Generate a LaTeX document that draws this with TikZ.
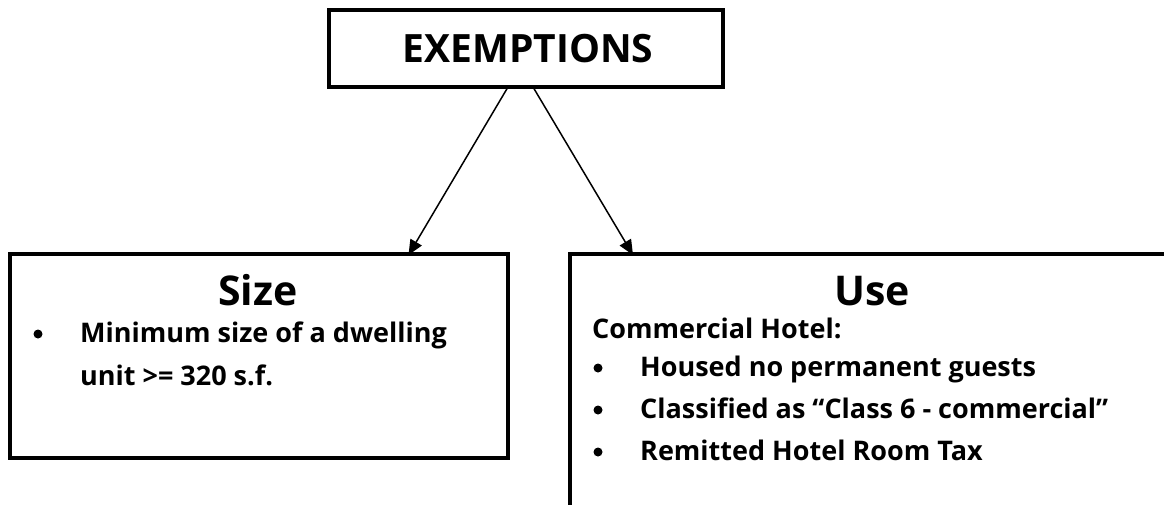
\documentclass[tikz,border=0pt]{standalone}
\usepackage{fontspec}
\setmainfont{Open Sans}
\usetikzlibrary{arrows.meta}
\begin{document}
\begin{tikzpicture}[x=1pt,y=-1pt,
  box/.style={draw=black,line width=3.5pt,inner sep=0pt,outer sep=0pt,fill=white},
  conn/.style={line width=1.5pt,-{Triangle[length=15pt,width=13pt]}},
  bigtitle/.style={anchor=base,inner sep=0pt,font=\bfseries\fontsize{39}{46}\selectfont},
  head/.style={anchor=base,inner sep=0pt,font=\bfseries\fontsize{41}{48}\selectfont},
  body/.style={anchor=base west,inner sep=0pt,font=\bfseries\fontsize{27}{32}\selectfont},
  bul/.style={circle,fill=black,inner sep=0pt,minimum size=9pt}]
\clip (0,0) rectangle (1164,504);
\fill[white] (0,0) rectangle (1164,504);
% boxes
\node[box,minimum width=394pt,minimum height=77pt] (exempt) at (526,48.5) {};
\node[box,minimum width=498pt,minimum height=204pt] (size) at (259,356) {};
\node[box,minimum width=610pt,minimum height=276pt] (use) at (875,392) {};
% titles
\node[bigtitle] (tEx) at (528,62) {EXEMPTIONS};
\node[head] (tSize) at (258,305) {Size};
\node[head] (tUse) at (872,305) {Use};
% size text
\node[bul] (b1) at (38,334) {};
\node[body] (s1) at (80,342) {Minimum size of a dwelling};
\node[body] (s2) at (80,385) {unit >= 320 s.f.};
% use text
\node[body] (u0) at (592,338) {Commercial Hotel:};
\node[bul] (b2) at (598,368) {};
\node[body] (u1) at (640,376) {Housed no permanent guests};
\node[bul] (b3) at (598,410) {};
\node[body] (u2) at (640,418) {Classified as “Class 6 - commercial”};
\node[bul] (b4) at (598,452) {};
\node[body] (u3) at (640,460) {Remitted Hotel Room Tax};
% connectors
\draw[conn] ([xshift=-18pt]exempt.south) -- ([xshift=149.5pt,yshift=-1pt]size.north);
\draw[conn] ([xshift=7pt]exempt.south) -- ([xshift=-242pt,yshift=-1pt]use.north);
\end{tikzpicture}
\end{document}
